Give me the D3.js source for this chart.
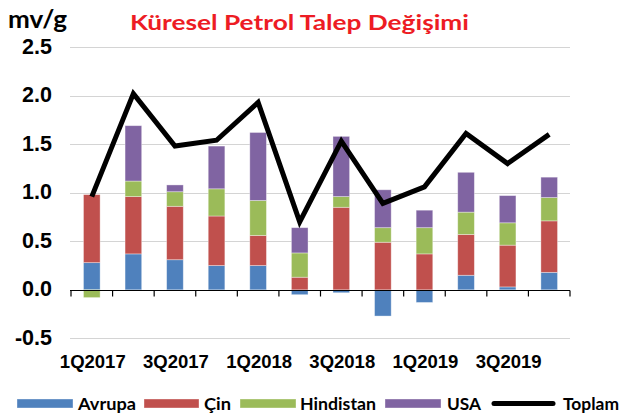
<!DOCTYPE html>
<html>
<head>
<meta charset="utf-8">
<script src="https://cdn.jsdelivr.net/npm/d3@7"></script>
<style>
  html, body { margin: 0; padding: 0; background: #fff; }
  svg { display: block; }
</style>
</head>
<body>
<div id="chart"></div>
<script>
// ---- data ----
const quarters = ["1Q2017","2Q2017","3Q2017","4Q2017","1Q2018","2Q2018","3Q2018","4Q2018","1Q2019","2Q2019","3Q2019","4Q2019"];
const avrupa    = [0.28, 0.37, 0.31, 0.25, 0.25, -0.05, -0.03, -0.27, -0.13, 0.15, 0.03, 0.18];
const cin       = [0.70, 0.59, 0.55, 0.51, 0.31,  0.13,  0.85,  0.49,  0.37, 0.42, 0.43, 0.53];
const hindistan = [-0.08, 0.16, 0.15, 0.28, 0.36, 0.25,  0.11,  0.15,  0.27, 0.23, 0.23, 0.24];
const usa       = [0.00, 0.57, 0.07, 0.44, 0.70,  0.26,  0.62,  0.39,  0.18, 0.41, 0.28, 0.21];
const toplam    = [0.96, 2.02, 1.48, 1.54, 1.93,  0.70,  1.53,  0.89,  1.06, 1.61, 1.30, 1.60];
const seriesNames = ["Avrupa", "Çin", "Hindistan", "USA"];
const lineName = "Toplam";
const yTicks = [-0.5, 0.0, 0.5, 1.0, 1.5, 2.0, 2.5];
const xLabelQuarters = ["1Q2017","3Q2017","1Q2018","3Q2018","1Q2019","3Q2019"];
const titleText = "Küresel Petrol Talep Değişimi";
const unitText = "mv/g";

// ---- styles ----
const colors = ["#4F81BD", "#C0504D", "#9BBB59", "#8064A2"];
const W = 622, H = 419;

const svg = d3.select("#chart").append("svg").attr("width", W).attr("height", H);

const x = d3.scaleBand().domain(quarters).range([71, 570]).paddingInner(0.6).paddingOuter(0.3);
const y = d3.scaleLinear().domain([-0.5, 2.5]).range([338.4, 47]);
const step = x.step();

// table for stacking
const rows = quarters.map((q, i) => ({
  q, Avrupa: avrupa[i], "Çin": cin[i], Hindistan: hindistan[i], USA: usa[i]
}));
const stack = d3.stack().keys(seriesNames).offset(d3.stackOffsetDiverging);
const stacked = stack(rows);

// gridlines
svg.append("g").selectAll("line").data(yTicks.filter(v => v !== 0)).join("line")
  .attr("x1", 70).attr("x2", 570)
  .attr("y1", d => Math.round(y(d)) + 0.5).attr("y2", d => Math.round(y(d)) + 0.5)
  .attr("stroke", "#D4D4D4").attr("stroke-width", 1.2);

// y tick labels
svg.append("g").selectAll("text").data(yTicks).join("text")
  .attr("x", 52).attr("y", d => y(d) + 6.5)
  .attr("text-anchor", "end")
  .attr("font-family", "'Liberation Sans', Arial, sans-serif")
  .attr("font-weight", "bold").attr("font-size", 21.5)
  .attr("fill", "#000")
  .text(d => d.toFixed(1));

// bars
svg.append("g").selectAll("g").data(stacked).join("g")
  .attr("fill", (d, i) => colors[i])
  .selectAll("rect").data(d => d).join("rect")
  .attr("x", d => x(d.data.q))
  .attr("width", x.bandwidth())
  .attr("y", d => y(Math.max(d[0], d[1])))
  .attr("height", d => Math.abs(y(d[0]) - y(d[1])))
  .attr("stroke", "rgba(255,255,255,0.45)").attr("stroke-width", 0.8);

// zero axis line and ticks
const zy = Math.round(y(0)) + 0.5;
svg.append("line").attr("x1", 70).attr("x2", 570).attr("y1", zy).attr("y2", zy)
  .attr("stroke", "#000").attr("stroke-width", 1.2);
const boundaries = quarters.map(q => x(q) + x.bandwidth() / 2 - step / 2);
boundaries.push(x(quarters[quarters.length - 1]) + x.bandwidth() / 2 + step / 2);
svg.append("g").selectAll("line").data(boundaries).join("line")
  .attr("x1", d => d).attr("x2", d => d)
  .attr("y1", zy).attr("y2", zy + 6)
  .attr("stroke", "#000").attr("stroke-width", 1.2);

// x labels
svg.append("g").selectAll("text").data(xLabelQuarters).join("text")
  .attr("x", d => x(d) + x.bandwidth() / 2 + 1)
  .attr("y", 368)
  .attr("text-anchor", "middle")
  .attr("font-family", "'Liberation Sans', Arial, sans-serif")
  .attr("font-weight", "bold").attr("font-size", 18.5)
  .attr("fill", "#000")
  .text(d => d);

// total line
const line = d3.line()
  .x((d, i) => x(quarters[i]) + x.bandwidth() / 2)
  .y(d => y(d));
svg.append("path").datum(toplam)
  .attr("d", line)
  .attr("fill", "none").attr("stroke", "#000").attr("stroke-width", 5)
  .attr("stroke-linejoin", "miter").attr("stroke-miterlimit", 6);

// title & unit
svg.append("text").attr("x", 130).attr("y", 30)
  .attr("font-family", "Lato, 'Open Sans', sans-serif").attr("font-weight", "bold")
  .attr("font-size", 21).attr("fill", "#ED1C24")
  .attr("textLength", 339).attr("lengthAdjust", "spacingAndGlyphs")
  .text(titleText);
svg.append("text").attr("x", 8).attr("y", 27.5)
  .attr("font-family", "Lato, 'Open Sans', sans-serif").attr("font-weight", "bold")
  .attr("font-size", 25).attr("fill", "#000")
  .attr("textLength", 59).attr("lengthAdjust", "spacingAndGlyphs")
  .text(unitText);

// legend
const legendItems = [
  { name: seriesNames[0], color: colors[0], sx: 17, sw: 56, tx: 78, tw: 58, type: "bar" },
  { name: seriesNames[1], color: colors[1], sx: 144, sw: 55, tx: 204, tw: 27, type: "bar" },
  { name: seriesNames[2], color: colors[2], sx: 240, sw: 56, tx: 300, tw: 76, type: "bar" },
  { name: seriesNames[3], color: colors[3], sx: 385, sw: 56, tx: 447, tw: 34, type: "bar" },
  { name: lineName, color: "#000", sx: 494, sw: 59, tx: 563, tw: 56, type: "line" }
];
const lg = svg.append("g");
legendItems.forEach(it => {
  if (it.type === "bar") {
    lg.append("rect").attr("x", it.sx).attr("y", 399).attr("width", it.sw).attr("height", 9)
      .attr("fill", it.color).attr("stroke", "rgba(255,255,255,0.45)").attr("stroke-width", 0.8);
  } else {
    lg.append("line").attr("x1", it.sx).attr("x2", it.sx + it.sw).attr("y1", 403.5).attr("y2", 403.5)
      .attr("stroke", it.color).attr("stroke-width", 5).attr("stroke-linecap", "round");
  }
  lg.append("text").attr("x", it.tx).attr("y", 410)
    .attr("font-family", "Lato, 'Open Sans', sans-serif").attr("font-weight", "bold")
    .attr("font-size", 17).attr("fill", "#000")
    .attr("textLength", it.tw).attr("lengthAdjust", "spacingAndGlyphs")
    .text(it.name);
});
</script>
</body>
</html>
